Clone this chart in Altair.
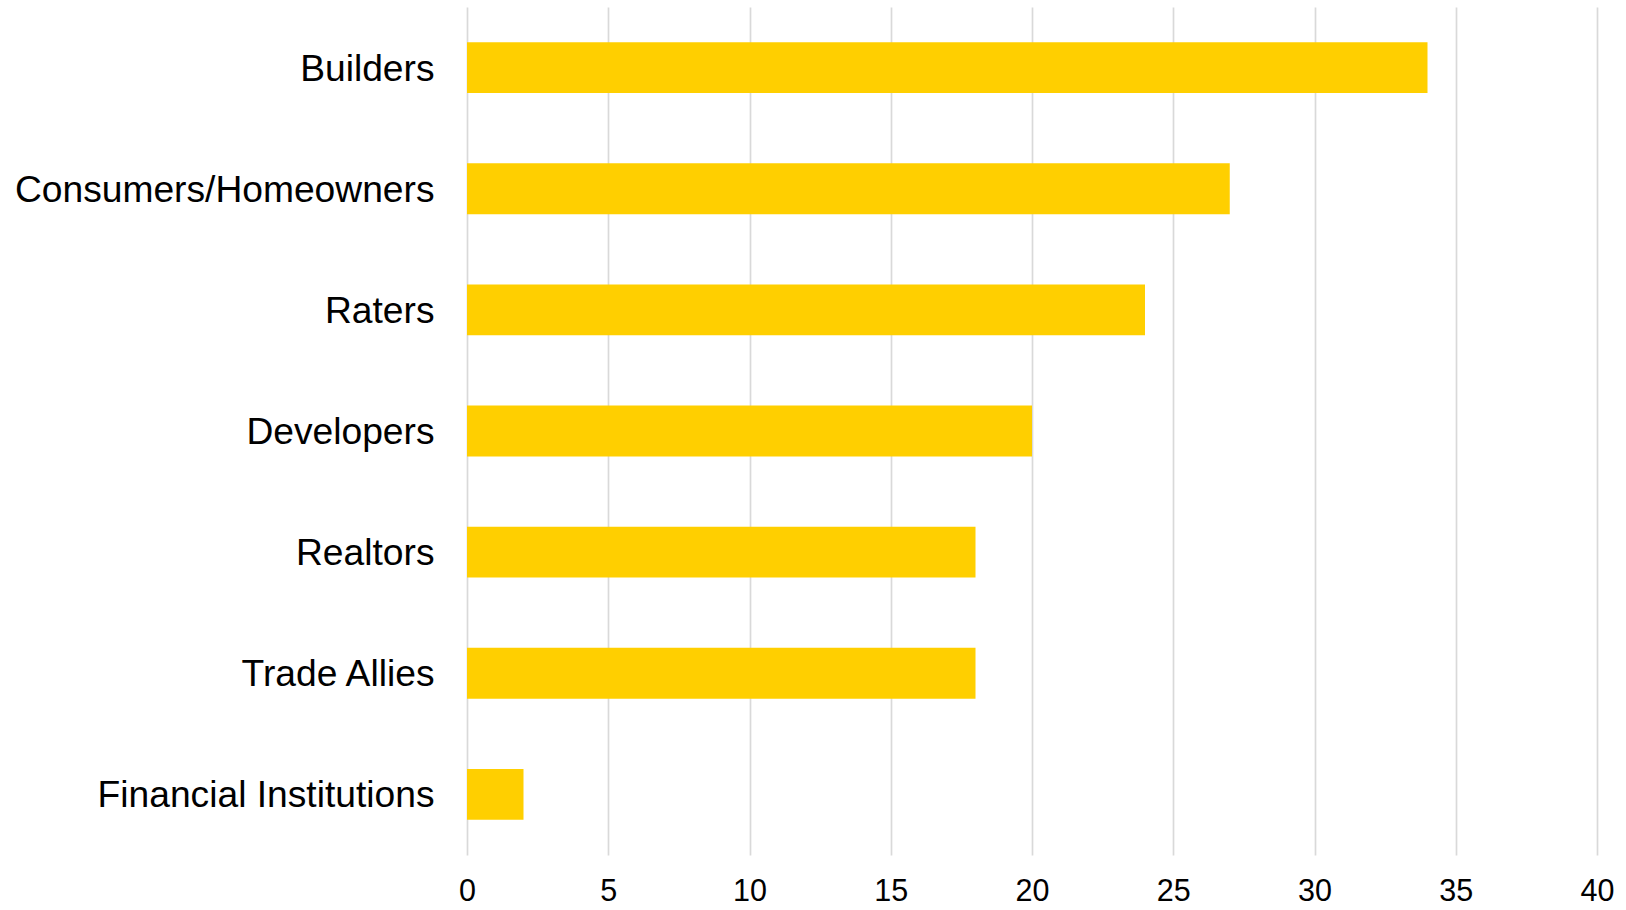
import altair as alt
import pandas as pd

categories = ["Builders", "Consumers/Homeowners", "Raters", "Developers",
              "Realtors", "Trade Allies", "Financial Institutions"]
values = [34, 27, 24, 20, 18, 18, 2]
x_ticks = [0, 5, 10, 15, 20, 25, 30, 35, 40]

df = pd.DataFrame({"category": categories, "value": values})

chart = alt.Chart(df).mark_bar(color="#FFCF00").encode(
    x=alt.X("value:Q",
            scale=alt.Scale(domain=[0, 40], nice=False, zero=True),
            axis=alt.Axis(values=x_ticks, title=None, domain=False, ticks=False,
                          grid=True, gridColor="#D9D9D9", gridWidth=1.7,
                          labelFontSize=30.5, labelFont="Liberation Sans",
                          labelColor="#000000", labelPadding=21,
                          labelFlush=False)),
    y=alt.Y("category:N", sort=categories,
            scale=alt.Scale(paddingInner=0.58, paddingOuter=0.29),
            axis=alt.Axis(title=None, domain=False, ticks=False, grid=False,
                          labelFontSize=37.2, labelFont="Liberation Sans",
                          labelColor="#000000", labelPadding=33,
                          labelOffset=2, labelLimit=1000)),
).properties(
    width=1130, height=848,
    background="white",
    autosize=alt.AutoSizeParams(type="none"),
    padding={"left": 467, "top": 7, "right": 29, "bottom": 55},
).configure_view(strokeWidth=0, stroke=None)

chart.save("out.html", embed_options={"renderer": "svg", "actions": False})
